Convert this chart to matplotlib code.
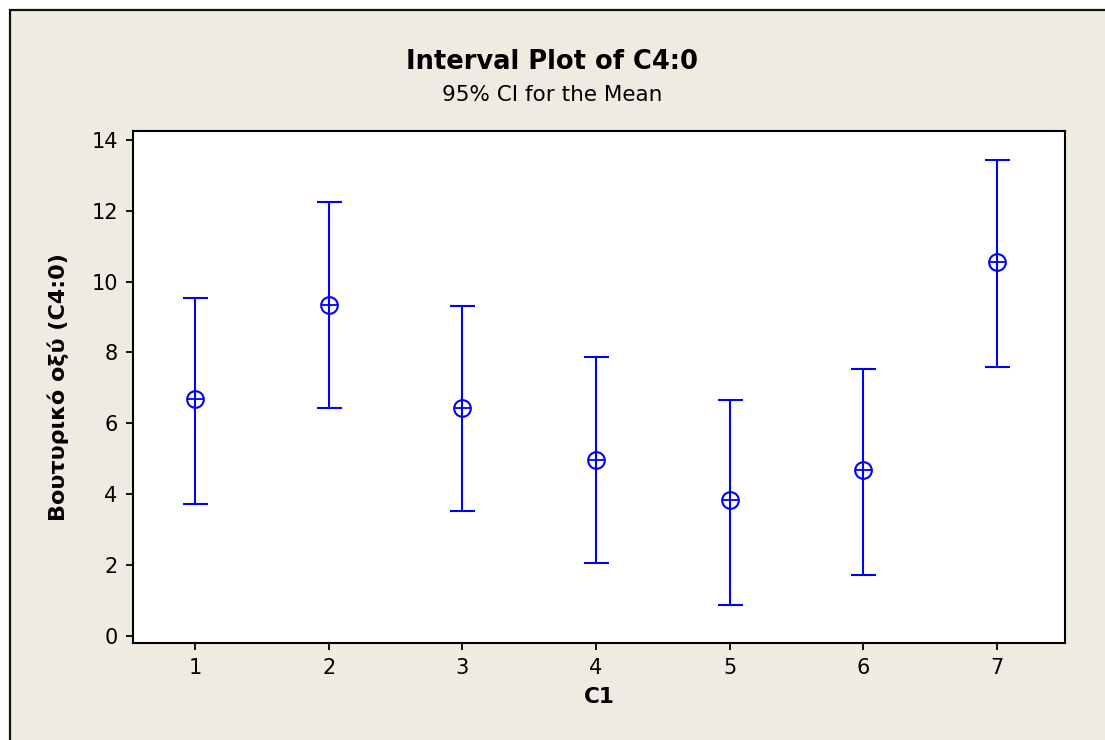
import matplotlib.pyplot as plt
from matplotlib.patches import Rectangle

# group labels and 95% CI values
groups = [1, 2, 3, 4, 5, 6, 7]
means = [6.69, 9.34, 6.43, 4.97, 3.84, 4.69, 10.56]
upper = [9.54, 12.25, 9.31, 7.87, 6.66, 7.54, 13.43]
lower = [3.73, 6.43, 3.53, 2.06, 0.87, 1.72, 7.59]

plt.rcParams['font.family'] = ['DejaVu Sans']

fig = plt.figure(figsize=(11.05, 7.4), dpi=100, facecolor='white')

# beige panel with a dark frame on top and left (right/bottom run off the image)
bg = Rectangle((10 / 1105, -0.1), 1.2, 730 / 740 + 0.1, transform=fig.transFigure,
               facecolor='#efebe1', edgecolor='#111111', linewidth=1.6, zorder=-1)
fig.patches.append(bg)

ax = fig.add_axes([133 / 1105, 97 / 740, (1065 - 133) / 1105, (643 - 131) / 740])
ax.set_facecolor('white')

err_lo = [m - l for m, l in zip(means, lower)]
err_hi = [u - m for m, u in zip(means, upper)]
ax.errorbar(groups, means, yerr=[err_lo, err_hi], fmt='none', ecolor='#0000ff',
            elinewidth=1.5, capsize=9, capthick=1.5)
ax.plot(groups, means, linestyle='none', marker='o', markersize=12,
        markerfacecolor='none', markeredgecolor='#0000ff', markeredgewidth=1.5)
ax.plot(groups, means, linestyle='none', marker='+', markersize=12,
        markeredgecolor='#0000ff', markeredgewidth=1.3)

ax.set_xlim(0.536, 7.51)
ax.set_ylim(-0.2, 14.25)
ax.set_xticks(groups)
ax.set_yticks(range(0, 15, 2))
ax.tick_params(axis='both', direction='out', length=5, width=1.3, labelsize=15)
ax.tick_params(axis='x', pad=6)
ax.tick_params(axis='y', pad=6)
for s in ax.spines.values():
    s.set_linewidth(1.5)

ax.set_xlabel('C1', fontsize=15.5, fontweight='bold', labelpad=6)
ax.set_ylabel('Βουτυρικό οξύ (C4:0)', fontsize=16, fontweight='bold', labelpad=16)

fig.text(0.5, 678 / 740, 'Interval Plot of C4:0', ha='center', va='center',
         fontsize=18.5, fontweight='bold')
fig.text(0.5, 645 / 740, '95% CI for the Mean', ha='center', va='center', fontsize=15.5)

fig.savefig('out.png', dpi=100, facecolor=fig.get_facecolor())
